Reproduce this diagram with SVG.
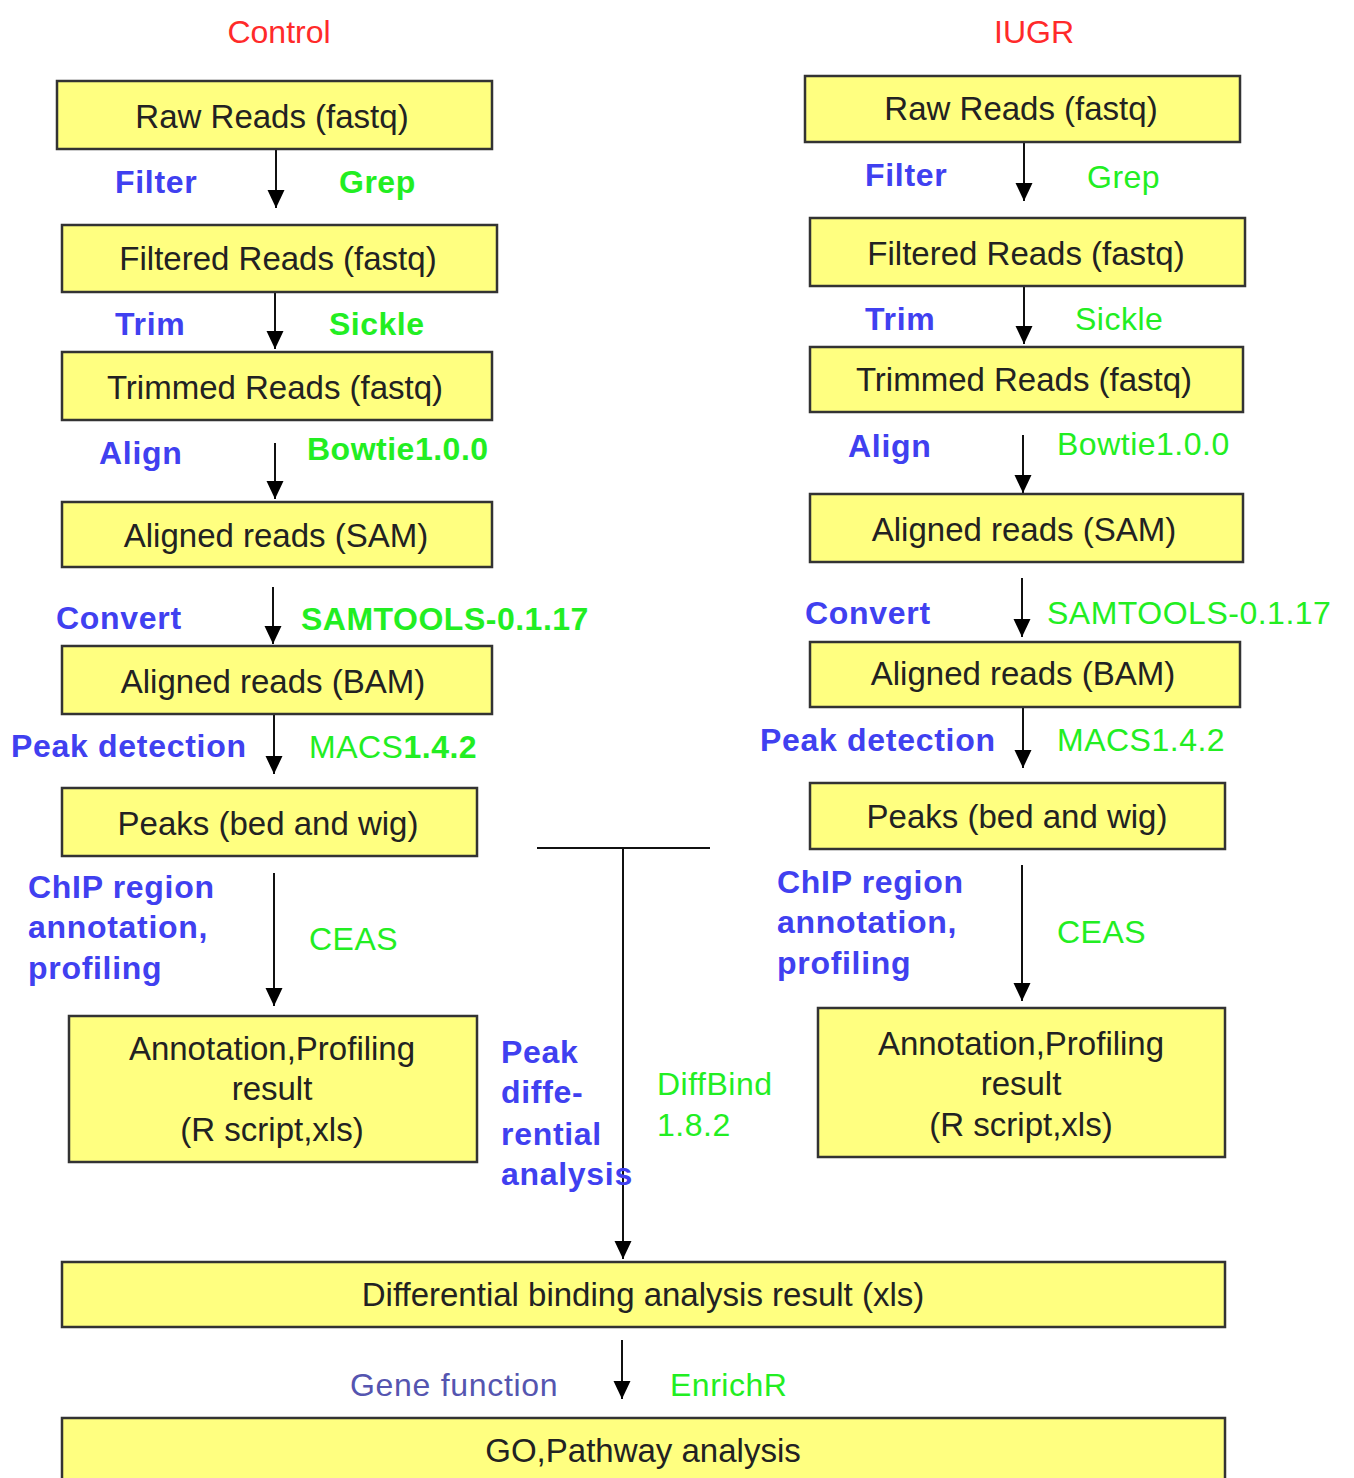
<svg xmlns="http://www.w3.org/2000/svg" width="1354" height="1478" viewBox="0 0 1354 1478">
<defs>
<marker id="ah" markerUnits="userSpaceOnUse" markerWidth="18" markerHeight="18" refX="18" refY="9" orient="auto"><path d="M0,0.5 L18,9 L0,17.5 z" fill="#000"/></marker>
<style>
.box{fill:#ffff80;stroke:#333;stroke-width:2.5}
.bt{font-family:"Liberation Sans",Arial,sans-serif;font-size:33px;fill:#222;text-anchor:middle}
.lb{font-family:"Liberation Sans",Arial,sans-serif;font-size:32px;font-weight:bold;fill:#4040f0;letter-spacing:0.7px}
.lg{font-family:"Liberation Sans",Arial,sans-serif;font-size:32px;fill:#22ee22;letter-spacing:0.5px}
.b{font-weight:bold}
.hd{font-family:"Liberation Sans",Arial,sans-serif;font-size:32px;fill:#ff2a2a;text-anchor:middle}
.ln{stroke:#111;stroke-width:2;fill:none}
.ar{stroke:#111;stroke-width:2;fill:none;marker-end:url(#ah)}
</style>
</defs>
<rect width="1354" height="1478" fill="#fff"/>
<text class="hd" x="279" y="43">Control</text>
<text class="hd" x="1034" y="43">IUGR</text>

<g id="connectors">
<line class="ar" x1="276" y1="149" x2="276" y2="208"/>
<line class="ar" x1="275" y1="292" x2="275" y2="349"/>
<line class="ar" x1="275" y1="443" x2="275" y2="499"/>
<line class="ar" x1="273" y1="587" x2="273" y2="644"/>
<line class="ar" x1="274" y1="714" x2="274" y2="774"/>
<line class="ar" x1="274" y1="873" x2="274" y2="1006"/>
<line class="ar" x1="1024" y1="142" x2="1024" y2="201"/>
<line class="ar" x1="1024" y1="286" x2="1024" y2="344"/>
<line class="ar" x1="1023" y1="435" x2="1023" y2="493"/>
<line class="ar" x1="1022" y1="578" x2="1022" y2="637"/>
<line class="ar" x1="1023" y1="707" x2="1023" y2="768"/>
<line class="ar" x1="1022" y1="865" x2="1022" y2="1001"/>
<line class="ln" x1="537" y1="848" x2="710" y2="848"/>
<line class="ar" x1="623" y1="848" x2="623" y2="1259"/>
<line class="ar" x1="622" y1="1340" x2="622" y2="1399"/>
</g>

<g id="c-raw"><rect class="box" x="57" y="81" width="435" height="68"/><text class="bt" x="272" y="128">Raw Reads (fastq)</text></g>
<g id="c-filtered"><rect class="box" x="62" y="225" width="435" height="67"/><text class="bt" x="278" y="270">Filtered Reads (fastq)</text></g>
<g id="c-trimmed"><rect class="box" x="62" y="352" width="430" height="68"/><text class="bt" x="275" y="399">Trimmed Reads (fastq)</text></g>
<g id="c-sam"><rect class="box" x="62" y="502" width="430" height="65"/><text class="bt" x="276" y="547">Aligned reads (SAM)</text></g>
<g id="c-bam"><rect class="box" x="62" y="646" width="430" height="68"/><text class="bt" x="273" y="693">Aligned reads (BAM)</text></g>
<g id="c-peaks"><rect class="box" x="62" y="788" width="415" height="68"/><text class="bt" x="268" y="835">Peaks (bed and wig)</text></g>
<g id="c-annot"><rect class="box" x="69" y="1016" width="408" height="146"/><text class="bt" x="272" y="1060">Annotation,Profiling</text><text class="bt" x="272" y="1100">result</text><text class="bt" x="272" y="1141">(R script,xls)</text></g>

<g id="i-raw"><rect class="box" x="805" y="76" width="435" height="66"/><text class="bt" x="1021" y="120">Raw Reads (fastq)</text></g>
<g id="i-filtered"><rect class="box" x="810" y="218" width="435" height="68"/><text class="bt" x="1026" y="265">Filtered Reads (fastq)</text></g>
<g id="i-trimmed"><rect class="box" x="810" y="347" width="433" height="65"/><text class="bt" x="1024" y="391">Trimmed Reads (fastq)</text></g>
<g id="i-sam"><rect class="box" x="810" y="494" width="433" height="68"/><text class="bt" x="1024" y="541">Aligned reads (SAM)</text></g>
<g id="i-bam"><rect class="box" x="810" y="642" width="430" height="65"/><text class="bt" x="1023" y="685">Aligned reads (BAM)</text></g>
<g id="i-peaks"><rect class="box" x="810" y="783" width="415" height="66"/><text class="bt" x="1017" y="828">Peaks (bed and wig)</text></g>
<g id="i-annot"><rect class="box" x="818" y="1008" width="407" height="149"/><text class="bt" x="1021" y="1055">Annotation,Profiling</text><text class="bt" x="1021" y="1095">result</text><text class="bt" x="1021" y="1136">(R script,xls)</text></g>

<g id="diff"><rect class="box" x="62" y="1262" width="1163" height="65"/><text class="bt" x="643" y="1306">Differential binding analysis result (xls)</text></g>
<g id="go"><rect class="box" x="62" y="1418" width="1163" height="72"/><text class="bt" x="643" y="1462">GO,Pathway analysis</text></g>

<g id="labels">
<text class="lb" x="115" y="193">Filter</text>
<text class="lg b" x="339" y="193">Grep</text>
<text class="lb" x="115" y="335">Trim</text>
<text class="lg b" x="329" y="335">Sickle</text>
<text class="lb" x="99" y="464">Align</text>
<text class="lg b" x="307" y="460">Bowtie1.0.0</text>
<text class="lb" x="56" y="629">Convert</text>
<text class="lg b" x="301" y="630">SAMTOOLS-0.1.17</text>
<text class="lb" x="11" y="757">Peak detection</text>
<text class="lg" x="309" y="758">MACS<tspan class="b">1.4.2</tspan></text>
<text class="lb" x="28" y="898">ChIP region</text>
<text class="lb" x="28" y="938">annotation,</text>
<text class="lb" x="28" y="979">profiling</text>
<text class="lg" x="309" y="950">CEAS</text>

<text class="lb" x="865" y="186">Filter</text>
<text class="lg" x="1087" y="188">Grep</text>
<text class="lb" x="865" y="330">Trim</text>
<text class="lg" x="1075" y="330">Sickle</text>
<text class="lb" x="848" y="457">Align</text>
<text class="lg" x="1057" y="455">Bowtie1.0.0</text>
<text class="lb" x="805" y="624">Convert</text>
<text class="lg" x="1047" y="624">SAMTOOLS-0.1.17</text>
<text class="lb" x="760" y="751">Peak detection</text>
<text class="lg" x="1057" y="751">MACS1.4.2</text>
<text class="lb" x="777" y="893">ChIP region</text>
<text class="lb" x="777" y="933">annotation,</text>
<text class="lb" x="777" y="974">profiling</text>
<text class="lg" x="1057" y="943">CEAS</text>

<text class="lb" x="501" y="1063">Peak</text>
<text class="lb" x="501" y="1103">diffe-</text>
<text class="lb" x="501" y="1145">rential</text>
<text class="lb" x="501" y="1185">analysis</text>
<text class="lg" x="657" y="1095">DiffBind</text>
<text class="lg" x="657" y="1136">1.8.2</text>
<text class="lb" x="350" y="1396" style="font-weight:normal;fill:#5555b0">Gene function</text>
<text class="lg" x="670" y="1396">EnrichR</text>
</g>
</svg>
